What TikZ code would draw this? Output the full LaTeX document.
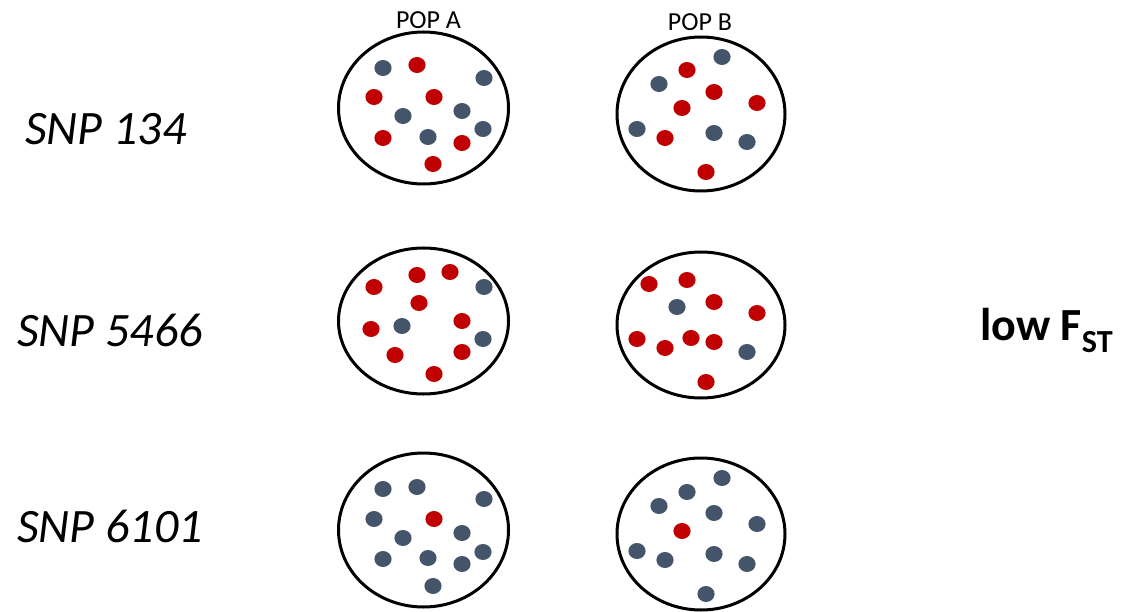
\documentclass[tikz,border=0pt]{standalone}
\usepackage{fontspec}
\setmainfont{Carlito}
\definecolor{rd}{HTML}{C00000}
\definecolor{bl}{HTML}{44546A}
\tikzset{
  popring/.style={draw=black, line width=3pt, fill=none},
  allele/.style={x radius=8.6pt, y radius=8pt},
  snplabel/.style={anchor=base west, inner sep=0pt, font=\fontsize{48}{52}\selectfont\itshape},
  poplabel/.style={anchor=base, inner sep=0pt, font=\fontsize{26}{30}\selectfont},
  fstlabel/.style={anchor=base west, inner sep=0pt, font=\fontsize{46}{50}\selectfont\bfseries},
}
\begin{document}
\begin{tikzpicture}[x=1pt, y=-1pt]
\useasboundingbox (0,0) rectangle (1124,612);

% population labels
\node[poplabel] (popA) at (428.5,29) {POP A};
\node[poplabel] (popB) at (700,31) {POP B};

% SNP labels
\node[snplabel] (snp134)  at (25,145) {SNP 134};
\node[snplabel] (snp5466) at (17,346) {SNP 5466};
\node[snplabel] (snp6101) at (17,542) {SNP 6101};

% F_ST label
\node[fstlabel] (fst) at (980,340) {low F\textsubscript{ST}};

% population rings
\draw[popring] (423.5,108) ellipse [x radius=85pt, y radius=76pt];
\draw[popring] (701,114)   ellipse [x radius=84pt, y radius=77pt];
\draw[popring] (423.5,321) ellipse [x radius=85pt, y radius=73pt];
\draw[popring] (701,325)   ellipse [x radius=84pt, y radius=73pt];
\draw[popring] (423.5,530) ellipse [x radius=85pt, y radius=77pt];
\draw[popring] (701,534)   ellipse [x radius=84pt, y radius=76pt];

% alleles: colour / x / y
% SNP 134, population A
\foreach \c/\x/\y in {bl/383/68, rd/417/65, bl/484/78, rd/374/97, rd/434/97, bl/403/116,
  bl/462/111, bl/483/129, rd/383/138, bl/428/137, rd/462/143, rd/433/164}
  {\fill[fill=\c] (\x,\y) ellipse [allele];}
% SNP 134, population B
\foreach \c/\x/\y in {bl/722/57, rd/687/70, bl/659/84, rd/714/92, rd/757/103, rd/682/108,
  bl/637/129, rd/665/138, bl/714/133, bl/747/142, rd/706/172}
  {\fill[fill=\c] (\x,\y) ellipse [allele];}
% SNP 5466, population A
\foreach \c/\x/\y in {rd/374/287, rd/417/275, rd/450/272, bl/484/287, rd/419/303, rd/371/329,
  bl/402/326, rd/462/321, bl/483/339, rd/395/355, rd/462/352, rd/434/374}
  {\fill[fill=\c] (\x,\y) ellipse [allele];}
% SNP 5466, population B
\foreach \c/\x/\y in {rd/649/284, rd/687/280, bl/677/307, rd/714/302, rd/757/313, rd/637/339,
  rd/665/348, rd/691/338, rd/714/342, bl/747/352, rd/706/382}
  {\fill[fill=\c] (\x,\y) ellipse [allele];}
% SNP 6101, population A
\foreach \c/\x/\y in {bl/383/489, bl/417/487, bl/484/499, bl/374/519, rd/434/519, bl/403/538,
  bl/462/533, bl/483/552, bl/383/559, bl/428/558, bl/462/564, bl/433/586}
  {\fill[fill=\c] (\x,\y) ellipse [allele];}
% SNP 6101, population B
\foreach \c/\x/\y in {bl/722/478, bl/687/492, bl/659/506, bl/714/513, bl/757/524, rd/682/531,
  bl/637/551, bl/665/560, bl/714/554, bl/747/564, bl/706/594}
  {\fill[fill=\c] (\x,\y) ellipse [allele];}
\end{tikzpicture}
\end{document}
